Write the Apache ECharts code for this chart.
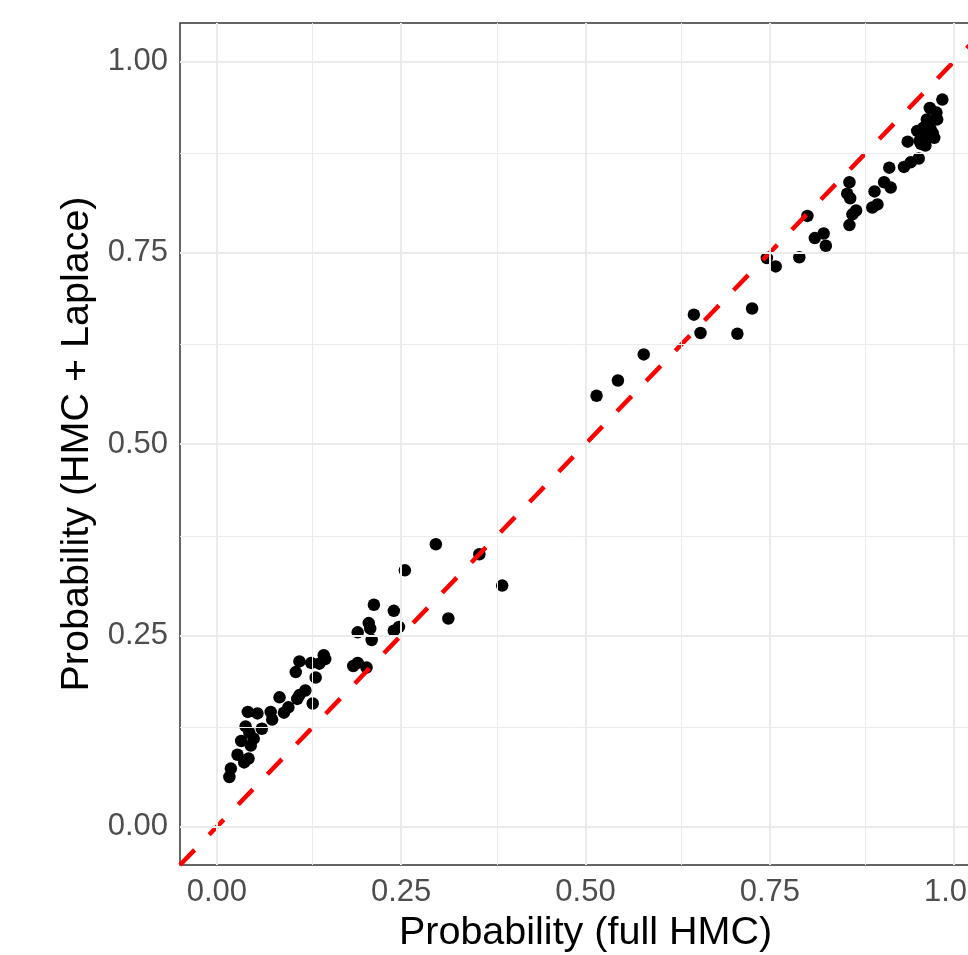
<!DOCTYPE html>
<html>
<head>
<meta charset="utf-8">
<script src="https://cdn.jsdelivr.net/npm/echarts@6/dist/echarts.min.js"></script>
<style>
  html, body { margin: 0; padding: 0; background: #fff; }
  #chart { width: 968px; height: 955px; }
</style>
</head>
<body>
<div id="chart"></div>
<script>
// probability from the full HMC run (x) vs HMC + Laplace (y)
var fullHmc = [
  0.017, 0.019, 0.028, 0.037, 0.043, 0.033, 0.046, 0.044, 0.050, 0.039,
  0.061, 0.042, 0.055, 0.073, 0.075, 0.085, 0.091, 0.097, 0.109, 0.112,
  0.120, 0.130, 0.112, 0.107, 0.128, 0.139, 0.145, 0.147, 0.134, 0.185,
  0.191, 0.203, 0.191, 0.206, 0.208, 0.210, 0.213, 0.240, 0.240, 0.247,
  0.255, 0.297, 0.314, 0.356, 0.387, 0.515, 0.544, 0.579, 0.647, 0.656,
  0.706, 0.726, 0.746, 0.758, 0.790, 0.801, 0.811, 0.823, 0.826, 0.858,
  0.855, 0.859, 0.867, 0.862, 0.858, 0.892, 0.889, 0.896, 0.905, 0.914,
  0.912, 0.932, 0.941, 0.952, 0.937, 0.950, 0.955, 0.973, 0.963, 0.967,
  0.976, 0.977, 0.984, 0.958, 0.961, 0.968, 0.953, 0.971, 0.960
];
var hmcLaplace = [
  0.065, 0.076, 0.094, 0.084, 0.089, 0.112, 0.106, 0.123, 0.115, 0.131,
  0.128, 0.150, 0.148, 0.150, 0.140, 0.169, 0.149, 0.156, 0.167, 0.172,
  0.178, 0.161, 0.216, 0.202, 0.214, 0.213, 0.224, 0.219, 0.195, 0.210,
  0.214, 0.208, 0.254, 0.266, 0.259, 0.244, 0.290, 0.282, 0.256, 0.261,
  0.335, 0.369, 0.272, 0.356, 0.315, 0.563, 0.583, 0.617, 0.669, 0.645,
  0.644, 0.677, 0.743, 0.732, 0.744, 0.798, 0.769, 0.775, 0.759, 0.842,
  0.827, 0.821, 0.805, 0.800, 0.786, 0.830, 0.809, 0.813, 0.842, 0.835,
  0.861, 0.862, 0.868, 0.873, 0.895, 0.909, 0.892, 0.900, 0.924, 0.939,
  0.933, 0.924, 0.950, 0.913, 0.890, 0.912, 0.896, 0.906, 0.903
];
var tickValues = [0, 0.25, 0.5, 0.75, 1];
var minorValues = [0.125, 0.375, 0.625, 0.875];
var axisMin = -0.05;
var axisMax = 1.05;

var points = fullHmc.map(function (x, i) { return [x, hmcLaplace[i]]; });

// grid lines as mark lines so they sit on the same scale as the ticks
var gridLines = [];
minorValues.forEach(function (v) {
  gridLines.push({ xAxis: v, lineStyle: { width: 1 } });
  gridLines.push({ yAxis: v, lineStyle: { width: 1 } });
});
tickValues.forEach(function (v) {
  gridLines.push({ xAxis: v, lineStyle: { width: 2 } });
  gridLines.push({ yAxis: v, lineStyle: { width: 2 } });
});

var font = 'Liberation Sans, Arial, sans-serif';

function axisOpts(name, gap) {
  return {
    type: 'value',
    min: axisMin,
    max: axisMax,
    name: name,
    nameLocation: 'middle',
    nameGap: gap,
    nameTextStyle: { color: '#000', fontSize: 39.5, fontFamily: font },
    axisLine: { show: false },
    axisTick: {
      show: true,
      customValues: tickValues,
      length: 7,
      lineStyle: { color: '#333333', width: 2 }
    },
    axisLabel: {
      customValues: tickValues,
      color: '#4d4d4d',
      fontSize: 31,
      fontFamily: font,
      margin: 12,
      formatter: function (v) { return v.toFixed(2); }
    },
    splitLine: { show: false },
    minorSplitLine: { show: false }
  };
}

var chart = echarts.init(document.getElementById('chart'), null, { renderer: 'canvas' });

var option = {
  backgroundColor: '#ffffff',
  animation: false,
  grid: {
    left: 180,
    top: 23,
    width: 811,
    height: 842,
    outerBoundsMode: 'none',
    show: true,
    backgroundColor: '#ffffff',
    borderColor: '#333333',
    borderWidth: 1.5
  },
  xAxis: axisOpts('Probability (full HMC)', 40),
  yAxis: axisOpts('Probability (HMC + Laplace)', 82),
  series: [
    {
      type: 'scatter',
      data: [],
      z: 1,
      silent: true,
      markLine: {
        silent: true,
        symbol: ['none', 'none'],
        label: { show: false },
        lineStyle: { color: '#ebebeb', type: 'solid' },
        emphasis: { disabled: true },
        data: gridLines
      }
    },
    {
      type: 'scatter',
      data: points,
      z: 2,
      symbol: 'circle',
      symbolSize: 12.5,
      itemStyle: { color: '#000000', opacity: 1 }
    },
    {
      type: 'line',
      data: [[axisMin, axisMin], [axisMax, axisMax]],
      z: 3,
      showSymbol: false,
      silent: true,
      lineStyle: { color: '#ff0000', width: 4.5, type: [21, 21], cap: 'butt' }
    }
  ]
};

chart.setOption(option);
</script>
</body>
</html>
